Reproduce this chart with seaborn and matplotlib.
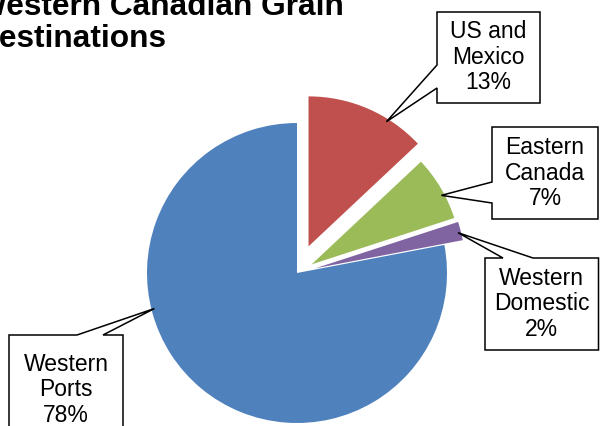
import seaborn as sns
import matplotlib.pyplot as plt
from matplotlib.patches import Polygon
import numpy as np

# Данные диаграммы
categories = ["US and\nMexico", "Eastern\nCanada", "Western\nDomestic", "Western\nPorts"]
shares = [13, 7, 2, 78]
colors = ["#C0504D", "#9BBB59", "#8064A2", "#4F81BD"]

sns.set_style("white")
plt.rcParams["font.family"] = ["Liberation Sans", "DejaVu Sans"]
plt.rcParams["text.color"] = "black"

W, H = 600, 426
fig = plt.figure(figsize=(6, 4.26), dpi=100)
ax = fig.add_axes([0, 0, 1, 1])

# Круговая диаграмма (координаты осей = пиксели картинки)
R = 150
explode = [29, 17, 19, 0]
wedges, _ = ax.pie(shares, colors=sns.color_palette(colors), explode=explode,
                   startangle=90, counterclock=False, radius=R,
                   center=(297, H - 273), wedgeprops=dict(linewidth=0))
ax.set_xlim(0, W)
ax.set_ylim(0, H)
ax.set_aspect("equal")
ax.axis("off")

# Подписи-выноски: рамка (x0, y0, x1, y1) сверху вниз, вырез и угол острия
boxes = [(437, 12, 540, 103), (492, 127, 598, 219), (485, 258, 598.5, 350), (9, 335, 123, 440)]
notches = [("left", 65, 88), ("left", 182, 203), ("top", 503, 533), ("top", 77, 103)]
tip_angles = [58, 28, 14, 194]
text_y = [57, 173, 304, 390]

for w, cat, val, box, notch, ang, ty in zip(wedges, categories, shares, boxes, notches,
                                             tip_angles, text_y):
    cx, cy = w.center
    a = np.deg2rad(ang)
    tip = (cx + 0.98 * w.r * np.cos(a), cy + 0.98 * w.r * np.sin(a))
    x0, y0, x1, y1 = box
    y0, y1 = H - y0, H - y1
    side, p, q = notch
    if side == "left":
        pts = [(x0, y0), (x1, y0), (x1, y1), (x0, y1), (x0, H - q), tip, (x0, H - p)]
    else:
        pts = [(x0, y0), (p, y0), tip, (q, y0), (x1, y0), (x1, y1), (x0, y1)]
    ax.add_patch(Polygon(pts, closed=True, fc="white", ec="black", lw=1.1, zorder=3))
    ax.text((x0 + x1) / 2, H - ty, f"{cat}\n{val}%", ha="center", va="center",
            fontsize=16.5, linespacing=1.15, color="black", zorder=4)

# Заголовок (обрезан слева и сверху, как в оригинале)
ax.text(-23, H - 47, "Western Canadian Grain\nDestinations", fontsize=22.75,
        fontweight="bold", color="black", ha="left", va="baseline", linespacing=1.1)

plt.savefig("out.png", dpi=100)
